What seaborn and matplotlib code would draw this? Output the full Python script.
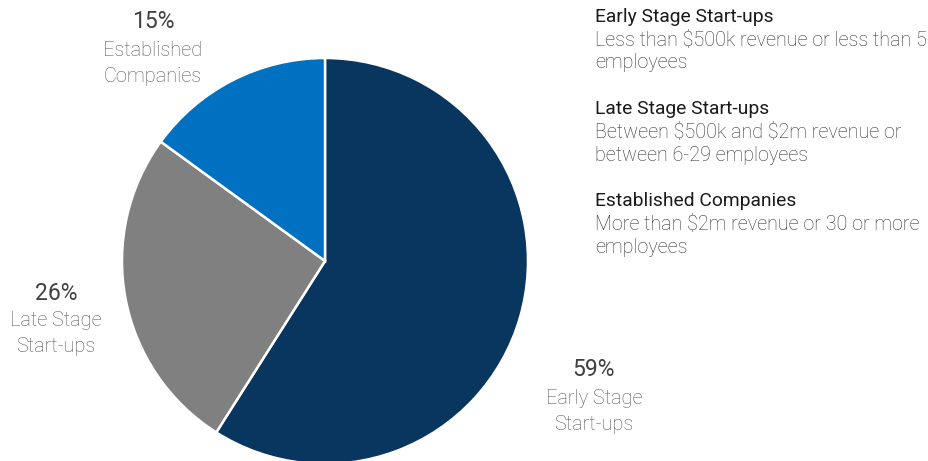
import matplotlib
matplotlib.use("Agg")
import matplotlib.pyplot as plt
import seaborn as sns

categories = ["Early Stage Start-ups", "Late Stage Start-ups", "Established Companies"]
values = [59, 26, 15]
short_labels = ["Early Stage\nStart-ups", "Late Stage\nStart-ups", "Established\nCompanies"]
descriptions = [
    "Less than $500k revenue or less than 5\nemployees",
    "Between $500k and $2m revenue or\nbetween 6-29 employees",
    "More than $2m revenue or 30 or more\nemployees",
]
colors = ["#08365f", "#808080", "#0070c0"]

sns.set_theme(style="white")
plt.rcParams["font.family"] = ["Roboto", "DejaVu Sans"]
plt.rcParams["text.parse_math"] = False

W, H = 929, 461
fig = plt.figure(figsize=(W / 100, H / 100), dpi=100)

cx, cy, r = 325, 261, 203
ax = fig.add_axes([(cx - r) / W, (H - cy - r) / H, 2 * r / W, 2 * r / H])
ax.pie(values, colors=sns.color_palette(colors), startangle=90, counterclock=False,
       radius=1, wedgeprops=dict(edgecolor="white", linewidth=1.8))
ax.set_xlim(-1, 1)
ax.set_ylim(-1, 1)
ax.set_aspect("equal")
ax.axis("off")


def px(x, y):
    return x / W, 1 - y / H


# outside labels: (center x, pct y, label first line y)
label_pos = [(594, 370, 398), (56, 294, 321), (153, 22, 50)]
for v, lab, (x, yp, yl) in zip(values, short_labels, label_pos):
    fig.text(*px(x, yp), f"{v}%", ha="center", va="center", fontsize=16.5,
             color="#404040", fontweight="normal", parse_math=False)
    for i, line in enumerate(lab.split("\n")):
        fig.text(*px(x, yl + i * 26), line, ha="center", va="center", fontsize=14.4,
                 color="#5a5a5a", fontweight="light", parse_math=False)

# right-hand description block
tx = 595
title_y = [17, 109, 201]
for cat, desc, ty in zip(categories, descriptions, title_y):
    fig.text(*px(tx, ty), cat, ha="left", va="center", fontsize=13.9,
             color="#1a1a1a", fontweight="normal", parse_math=False)
    for i, line in enumerate(desc.split("\n")):
        fig.text(*px(tx, ty + 23 * (i + 1)), line, ha="left", va="center", fontsize=14.2,
                 color="#333333", fontweight="light", parse_math=False)

fig.savefig("out.png", dpi=100, facecolor="white")
